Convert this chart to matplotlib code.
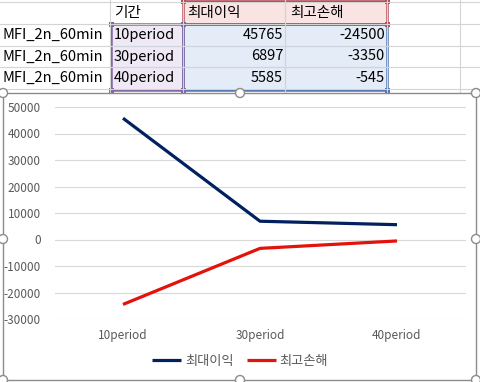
import matplotlib.pyplot as plt
from matplotlib.patches import Rectangle, Circle

plt.rcParams['font.family'] = ['Noto Sans CJK KR', 'DejaVu Sans']

# data read from the sheet
row_labels = ['MFI_2n_60min', 'MFI_2n_60min', 'MFI_2n_60min']
periods = ['10period', '30period', '40period']
max_profit = [45765, 6897, 5585]
max_loss = [-24500, -3350, -545]
header = ['기간', '최대이익', '최고손해']
y_ticks = [-30000, -20000, -10000, 0, 10000, 20000, 30000, 40000, 50000]

W, H = 480, 382
fig = plt.figure(figsize=(W / 100, H / 100), dpi=100)

# background "spreadsheet" axes in pixel coordinates
bg = fig.add_axes([0, 0, 1, 1])
bg.set_xlim(0, W)
bg.set_ylim(H, 0)
bg.axis('off')

grid_c = '#D4D4D4'
col_x = [110, 183, 285, 387, 460]
row_y = [2, 24, 46, 67, 89]
for x in col_x:
    bg.plot([x, x], [0, 92], color=grid_c, lw=0.8)
for y in row_y:
    bg.plot([0, W], [y, y], color=grid_c, lw=0.8)

# selection highlights
bg.add_patch(Rectangle((183, 0), 204, 24, facecolor='#F9E3E3', edgecolor='none'))
bg.add_patch(Rectangle((111, 24), 72, 66, facecolor='#EFE9F5', edgecolor='none'))
bg.add_patch(Rectangle((183, 24), 204, 66, facecolor='#E4ECF7', edgecolor='none'))
for y in row_y[2:4]:
    bg.plot([111, 387], [y, y], color='#D0D4DC', lw=0.8)
bg.plot([285, 285], [0, 90], color='#D0D4DC', lw=0.8)
bg.add_patch(Rectangle((183, 1), 204, 23, facecolor='none', edgecolor='#B54A56', lw=1.8))
bg.add_patch(Rectangle((183, 24), 204, 66, facecolor='none', edgecolor='#4F75B0', lw=1.8))
bg.add_patch(Rectangle((111, 24), 72, 66, facecolor='none', edgecolor='#8064A2', lw=1.8))
for (x, y, c) in [(183, 1, '#B54A56'), (387, 1, '#B54A56'), (387, 24, '#B54A56'),
                  (111, 24, '#8064A2'), (183, 24, '#8064A2'), (111, 90, '#8064A2'),
                  (183, 90, '#8064A2'), (387, 90, '#4F75B0')]:
    bg.add_patch(Rectangle((x - 2.5, y - 2.5), 5, 5, facecolor=c, edgecolor='none'))

fs = 10.5
bg.text(114, 13, header[0], fontsize=fs, va='center', ha='left')
bg.text(187, 13, header[1], fontsize=fs, va='center', ha='left')
bg.text(290, 13, header[2], fontsize=fs, va='center', ha='left')
for i in range(3):
    yc = 35 + i * 21.5
    bg.text(3, yc, row_labels[i], fontsize=fs, va='center', ha='left')
    bg.text(114, yc, periods[i], fontsize=fs, va='center', ha='left')
    bg.text(283, yc, str(max_profit[i]), fontsize=fs, va='center', ha='right')
    bg.text(385, yc, str(max_loss[i]), fontsize=fs, va='center', ha='right')

# chart area
bg.add_patch(Rectangle((3, 93), 473, 287, facecolor='white', edgecolor='#8C8C8C', lw=1.0, zorder=5))
for (x, y) in [(3, 93), (240, 93), (476, 93), (3, 239), (476, 239),
               (3, 380), (240, 380), (476, 380)]:
    bg.add_patch(Circle((x, y), 4.5, facecolor='white', edgecolor='#8C8C8C', lw=1.0, zorder=6))

# plot area
left, right, top, bottom = 54.5, 465.5, 107, 319
ax = fig.add_axes([left / W, 1 - bottom / H, (right - left) / W, (bottom - top) / H])
ax.patch.set_alpha(0)
x = range(len(periods))
ax.plot(x, max_profit, color='#002060', lw=2.3, label=header[1], solid_capstyle='butt')
ax.plot(x, max_loss, color='#E3120B', lw=2.3, label=header[2], solid_capstyle='butt')
ax.set_xlim(-0.5, 2.5)
ax.set_ylim(-30000, 50000)
ax.set_yticks(y_ticks)
ax.set_yticklabels([str(v) for v in y_ticks])
ax.set_xticks(list(x))
ax.set_xticklabels(periods)
ax.grid(axis='y', color='#D9D9D9', lw=0.8)
ax.set_axisbelow(True)
for s in ax.spines.values():
    s.set_visible(False)
ax.tick_params(length=0, labelsize=8.5, labelcolor='#595959')
ax.tick_params(axis='y', pad=10)
ax.tick_params(axis='x', pad=7)

fig.legend(loc='center', bbox_to_anchor=(240 / W, 1 - 361 / H), ncol=2, frameon=False,
           fontsize=9.5, handlelength=2.2, handletextpad=0.3, columnspacing=1.0,
           labelcolor='#595959')

fig.savefig('out.png', dpi=100)
